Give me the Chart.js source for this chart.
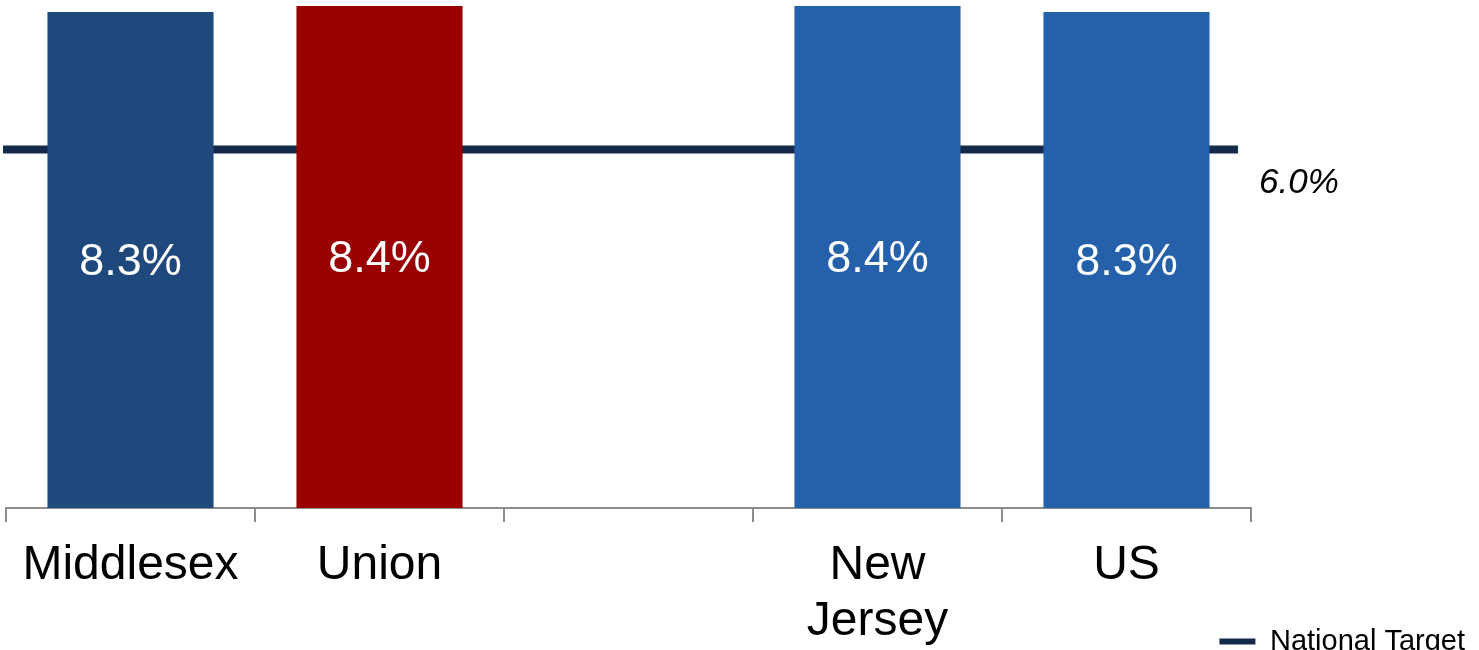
<!DOCTYPE html>
<html>
<head>
<meta charset="utf-8">
<title>Rate comparison</title>
<script src="https://cdn.jsdelivr.net/npm/chart.js@4"></script>
<style>
  html, body { margin: 0; padding: 0; background: #ffffff; overflow: hidden; width: 1479px; height: 650px; }
  #wrap { width: 1479px; height: 666px; }
  canvas { display: block; }
</style>
</head>
<body>
<div id="wrap"><canvas id="chart" width="1479" height="666"></canvas></div>
<script>
// Categories (the blank slot separates the counties from the state and the nation)
const categories = ['Middlesex', 'Union', '', ['New', 'Jersey'], 'US'];
// Rate per category, in percent
const rates = [8.3, 8.4, null, 8.4, 8.3];
const barColors = ['#1F497D', '#990000', '#1F497D', '#2461AA', '#2461AA'];
// National target, in percent, drawn as a line across the plot
const targetLabel = 'National Target';
const targetValue = 6.0;
const targetSpan = [0, 1];

const FONT = '"Liberation Sans", Arial, Helvetica, sans-serif';
const pct = v => v.toFixed(1) + '%';

// Writes each bar's value inside it, and the target value under the end of its line
const valueLabels = {
  id: 'valueLabels',
  afterDatasetsDraw(chart) {
    const ctx = chart.ctx;
    ctx.save();
    const barMeta = chart.getDatasetMeta(0);
    ctx.font = '45px ' + FONT;
    ctx.fillStyle = '#ffffff';
    ctx.textAlign = 'center';
    ctx.textBaseline = 'middle';
    barMeta.data.forEach((bar, i) => {
      const v = rates[i];
      if (v == null) return;
      const p = bar.getProps(['x', 'y', 'base'], true);
      ctx.fillText(pct(v), p.x, (p.y + p.base) / 2 + 3);
    });
    const lineMeta = chart.getDatasetMeta(1);
    const end = lineMeta.data[lineMeta.data.length - 1];
    ctx.font = 'italic 35px ' + FONT;
    ctx.fillStyle = '#000000';
    ctx.textAlign = 'left';
    ctx.fillText(pct(targetValue), end.x + 21, end.y + 34);
    ctx.restore();
  }
};

new Chart(document.getElementById('chart'), {
  type: 'bar',
  data: {
    labels: categories,
    datasets: [
      {
        label: 'Rate',
        data: rates,
        backgroundColor: barColors,
        borderWidth: 0,
        grouped: false,
        barPercentage: 1,
        categoryPercentage: 0.667,
        order: 1
      },
      {
        type: 'line',
        label: targetLabel,
        data: targetSpan.map(x => ({ x: x, y: targetValue })),
        xAxisID: 'xt',
        borderColor: '#142A4B',
        backgroundColor: '#142A4B',
        borderWidth: 8,
        borderCapStyle: 'butt',
        pointRadius: 0,
        fill: false,
        clip: false,
        order: 2
      }
    ]
  },
  options: {
    responsive: false,
    animation: false,
    devicePixelRatio: 1,
    layout: { padding: 0 },
    plugins: {
      tooltip: { enabled: false },
      legend: {
        display: true,
        position: 'bottom',
        align: 'end',
        labels: {
          boxWidth: 36,
          boxHeight: 6,
          padding: 14,
          color: '#000000',
          font: { family: FONT, size: 29 },
          generateLabels(chart) {
            return Chart.defaults.plugins.legend.labels.generateLabels(chart)
              .filter(item => item.datasetIndex === 1)
              .map(item => Object.assign(item, { fillStyle: '#142A4B', strokeStyle: '#142A4B', lineWidth: 0 }));
          }
        }
      }
    },
    scales: {
      x: {
        type: 'category',
        offset: true,
        grid: {
          display: true,
          offset: true,
          drawOnChartArea: false,
          drawTicks: true,
          tickLength: 14,
          color: '#8C8C8C',
          lineWidth: 2
        },
        border: { display: true, color: '#8C8C8C', width: 2 },
        ticks: {
          color: '#000000',
          padding: 16,
          maxRotation: 0,
          autoSkip: false,
          font: { family: FONT, size: 48, lineHeight: 1.16 }
        },
        afterFit(scale) {
          scale.height = 105;
          // let the wrapped second line run below the axis box
          scale._computeLabelArea = () => undefined;
        }
      },
      xt: {
        type: 'linear',
        display: false,
        offset: false,
        min: 0.0024,
        max: 1.0105
      },
      y: {
        type: 'linear',
        position: 'left',
        min: 0,
        max: 8.5,
        grid: { display: false },
        border: { display: false },
        ticks: { display: false },
        afterFit(scale) { scale.width = 6; }
      },
      yr: {
        type: 'linear',
        position: 'right',
        min: 0,
        max: 8.5,
        grid: { display: false },
        border: { display: false },
        ticks: { display: false },
        afterFit(scale) { scale.width = 228; }
      }
    }
  },
  plugins: [valueLabels]
});
</script>
</body>
</html>
